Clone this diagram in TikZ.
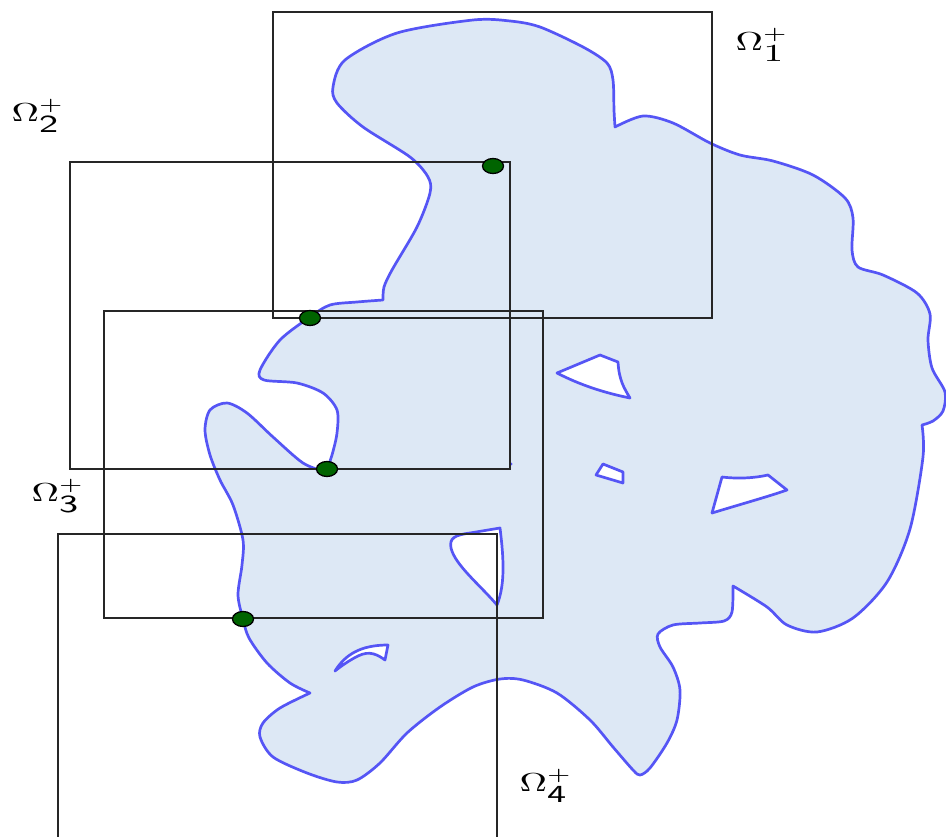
\documentclass[tikz,border=0pt]{standalone}
\usetikzlibrary{shapes.geometric}
\definecolor{blobfill}{RGB}{221,232,245}
\definecolor{blobline}{RGB}{85,85,245}
\definecolor{dotgreen}{RGB}{0,100,0}
\newcommand{\omlab}[1]{\scalebox{3.8}[2.6]{$\Omega^{+}_{\scalebox{1.35}{$\scriptstyle #1$}}$}}
\begin{document}
\begin{tikzpicture}[x=1pt,y=-1pt,
  blob/.style={fill=blobfill,draw=blobline,line width=2.7pt,line join=round},
  hole/.style={fill=white,draw=blobline,line width=2.7pt,line join=round},
  patch/.style={draw=black!85,line width=1.5pt},
  dotnode/.style={ellipse,fill=dotgreen,draw=black,line width=1.3pt,minimum width=21pt,minimum height=15pt,inner sep=0pt},
  lab/.style={inner sep=0pt}]
\useasboundingbox (0,0) rectangle (946,837);
\clip (0,0) rectangle (946,837);
% domain
\path[blob] plot[smooth] coordinates {(615,127) (643,116) (673,123) (710,143) (740,155) (773,161) (813,175) (845,198) (853,218) (852,250) (858,267) (883,275) (917,293) (930,314) (928,340) (932,368) (945,392) (943,411) (933,421) (922,425)}
 -- plot[smooth] coordinates {(922,425) (923,457) (910,529) (887,582) (853,618) (817,632) (787,625) (767,607) (733,586)}
 -- plot[smooth] coordinates {(733,586) (732,612) (724,621) (700,623) (673,625) (658,634) (660,647) (673,667) (680,690) (677,720) (667,743) (650,768) (640,775) (633,770) (613,747) (590,720) (557,693) (523,680) (500,679) (473,687) (440,707) (407,733) (380,763) (357,780) (337,782) (307,773) (273,757) (260,737) (263,723) (280,708) (310,693)}
 -- plot[smooth] coordinates {(310,693) (290,683) (267,663) (249,638) (243,619) (238,595) (242,565) (243,540) (233,505) (220,480) (210,455) (205,430) (210,410) (227,403) (247,413) (273,437) (303,463) (326,472)}
 -- plot[smooth] coordinates {(326,472) (332,455) (337,433) (337,410) (323,393) (297,383) (264,380) (260,370) (280,340) (310,317) (330,305) (357,302) (383,300)}
 -- plot[smooth] coordinates {(383,300) (384,287) (392,270) (417,227) (430,193) (428,177) (410,157) (363,127) (337,103) (333,87) (345,60) (397,33) (473,20) (510,21) (540,27) (583,47) (607,63) (613,80) (614,110) (615,127)}
 -- cycle;
% holes
\path[hole] (557,373) -- (600,355) -- (618,362) .. controls (619,380) and (624,388) .. (630,398) .. controls (605,393) and (580,385) .. (557,373) -- cycle;
\path[hole] (596,475) -- (603,464) -- (623,472) -- (623,483) -- cycle;
\path[hole] (712,513) -- (722,477) .. controls (738,479) and (755,478) .. (768,475) -- (787,490) .. controls (770,496) and (745,503) .. (712,513) -- cycle;
\path[hole] (500,528) .. controls (504,560) and (505,585) .. (497,605) .. controls (480,585) and (455,565) .. (451,548) .. controls (449,538) and (455,535) .. (470,533) -- cycle;
\path[hole] (335,671) .. controls (345,655) and (360,645) .. (388,645) -- (385,660) .. controls (378,655) and (370,650) .. (358,656) .. controls (348,661) and (340,667) .. (335,671) -- cycle;
\fill[blobline] (511,464) circle (1.6);
% subdomains
\draw[patch] (273,12) rectangle (712,318);
\draw[patch] (70,162) rectangle (510,469);
\draw[patch] (104,311) rectangle (543,618);
\draw[patch] (58,534) rectangle (497,850);
% points
\node[dotnode] (p1) at (493,166) {};
\node[dotnode] (p2) at (310,318) {};
\node[dotnode] (p3) at (327,469) {};
\node[dotnode] (p4) at (243,619) {};
% labels
\node[lab] (l1) at (762,45) {\omlab{1}};
\node[lab] (l2) at (38,116) {\omlab{\mathsf{2}}};
\node[lab] (l3) at (58,496) {\omlab{\mathsf{3}}};
\node[lab] (l4) at (546,786) {\omlab{\mathsf{4}}};
\end{tikzpicture}
\end{document}
